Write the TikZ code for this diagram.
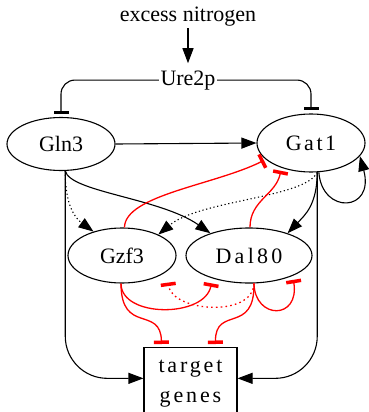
\documentclass[tikz,border=0pt]{standalone}
\usepackage{fontspec}
\setmainfont{Liberation Serif}
\newfontfamily\spA[LetterSpace=11.5]{Liberation Serif}
\newfontfamily\spB[LetterSpace=15]{Liberation Serif}
\newfontfamily\spC[LetterSpace=13]{Liberation Serif}
\newcommand\myfs{\fontsize{22}{26}\selectfont}
\usetikzlibrary{arrows.meta,shapes.geometric}
\begin{document}
\begin{tikzpicture}[x=1pt,y=-1pt,font=\myfs,
  ell/.style={ellipse,draw,line width=1.1pt,inner sep=0pt},
  act/.style={line width=1.1pt,-{Triangle[length=15pt,width=11pt]}},
  inhk/.style={line width=1.1pt,-{Bar[width=15pt,line width=3pt]}},
  inhr/.style={red,line width=1.3pt,-{Bar[width=15pt,line width=3.5pt]}},
  dotk/.style={dash pattern=on 1.2pt off 2.6pt},
  dotr/.style={dash pattern=on 1.6pt off 3.2pt}]
\useasboundingbox (0,0) rectangle (368,412);
\node[inner sep=1.5pt,anchor=base] (E) at (188,22) {excess nitrogen};
\node[inner xsep=1.5pt,inner ysep=7pt,anchor=base] (U) at (188,85) {Ure2p};
\node[ell,minimum width=108pt,minimum height=53pt] (Gln3) at (61,144) {Gln3};
\node[ell,minimum width=108pt,minimum height=58pt,font=\spA\myfs] (Gat1) at (311,143) {Gat1};
\node[ell,minimum width=108pt,minimum height=55pt] (Gzf3) at (122,255.5) {Gzf3};
\node[ell,minimum width=126pt,minimum height=55pt,font=\spB\myfs] (Dal80) at (249,255.5) {Dal80};
\node[draw,line width=1.1pt,minimum width=93pt,anchor=north,align=center,inner xsep=0pt,inner ysep=13pt,font=\spC\fontsize{22}{30}\selectfont] (T) at (190.5,347) {target\\genes};
% black
\draw[act] (E.south) -- (U.north);
\draw[inhk,rounded corners=14pt,shorten >=3pt] (U.west) -| (Gln3.north);
\draw[inhk,rounded corners=14pt,shorten >=3pt] (U.east) -| (Gat1.north);
\draw[act] (Gln3.east) -- (Gat1.west);
\draw[act,rounded corners=42pt] (Gln3.-81) |- (T.173);
\draw[act,rounded corners=42pt] (Gat1.-78) |- (T.7);
\draw[act,dotk] (Gln3.-81) .. controls (65,205) and (75,218) .. (Gzf3.140);
\draw[act] (Gln3.-81) .. controls (70,192) and (160,198) .. (Dal80.150);
\draw[act,dotk] (Gat1.-78) .. controls (305,198) and (200,200) .. (Gzf3.30);
\draw[act] (Gat1.-78) .. controls (317,205) and (305,215) .. (Dal80.30);
\draw[act] (Gat1.-75) .. controls (322,215) and (375,212) .. (Gat1.-15);
% red
\draw[inhr,shorten >=2pt] (Gzf3.85) .. controls (125,195) and (215,185) .. (Gat1.-160);
\draw[inhr,shorten >=3pt] (Dal80.88) .. controls (250,200) and (276,195) .. (Gat1.-140);
\draw[inhr,shorten >=3pt] (Gzf3.-92) .. controls (121,335) and (161,305) .. (T.128);
\draw[inhr,shorten >=3pt] (Dal80.-80) .. controls (255,335) and (215,305) .. (T.56);
\draw[inhr,shorten >=5pt] (Gzf3.-92) .. controls (121,318) and (205,318) .. (Dal80.-148);
\draw[inhr,dotr,shorten >=11pt] (Dal80.-80) .. controls (253,318) and (172,312) .. (Gzf3.-20);
\draw[inhr,shorten >=4pt] (Dal80.-80) .. controls (255,320) and (300,320) .. (Dal80.-25);
\end{tikzpicture}
\end{document}
